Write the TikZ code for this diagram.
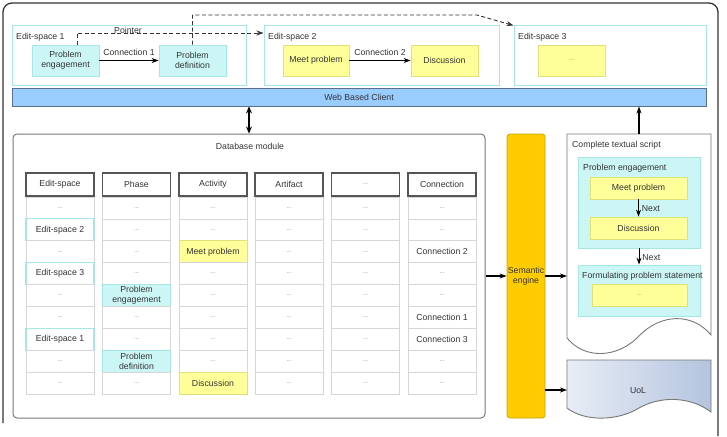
\documentclass[tikz,border=0pt]{standalone}
\usepackage{fontspec}
\setmainfont{Liberation Sans}
\usetikzlibrary{arrows.meta,calc}
\definecolor{txt}{HTML}{333333}
\definecolor{cyb}{HTML}{A6E6E6}
\definecolor{cyf}{HTML}{CCF6F6}
\definecolor{yef}{HTML}{FFFF99}
\definecolor{yeb}{HTML}{E0E07A}
\definecolor{blf}{HTML}{99CCFF}
\definecolor{blb}{HTML}{5C6F88}
\definecolor{orf}{HTML}{FFCC00}
\definecolor{orb}{HTML}{C9A100}
\definecolor{cellb}{HTML}{D6D6D6}
\definecolor{hdrb}{HTML}{555555}
\definecolor{frm}{HTML}{777777}
\definecolor{uolL}{HTML}{E8EDF6}
\definecolor{uolR}{HTML}{B4C4DE}
\newcommand{\dd}{\textcolor{gray}{\fontsize{6}{6}\selectfont ...}}
\expandafter\def\csname ctd\endcsname{\dd}
\expandafter\def\csname ctE1\endcsname{Edit-space 1}
\expandafter\def\csname ctE2\endcsname{Edit-space 2}
\expandafter\def\csname ctE3\endcsname{Edit-space 3}
\expandafter\def\csname ctPE\endcsname{Problem\\engagement}
\expandafter\def\csname ctPD\endcsname{Problem\\definition}
\expandafter\def\csname ctMP\endcsname{Meet problem}
\expandafter\def\csname ctDI\endcsname{Discussion}
\expandafter\def\csname ctC1\endcsname{Connection 1}
\expandafter\def\csname ctC2\endcsname{Connection 2}
\expandafter\def\csname ctC3\endcsname{Connection 3}
\begin{document}
\begin{tikzpicture}[x=1pt,y=-1pt, font=\fontsize{8.7}{9.7}\selectfont, text=txt,
  every node/.style={inner sep=0pt, align=center},
  espace/.style={draw=cyb, line width=1pt, fill=white},
  cybox/.style={draw=cyb, fill=cyf, line width=0.8pt},
  yebox/.style={draw=yeb, fill=yef, line width=0.8pt},
  arr/.style={-{Stealth[length=7pt,width=5pt]}, line width=1.1pt, draw=black},
  dasharr/.style={dash pattern=on 4pt off 2.5pt, line width=0.9pt, draw=txt, -{Stealth[length=7pt,width=5pt]}},
  cell/.style={draw=cellb, line width=0.8pt, fill=white, minimum width=68pt, minimum height=21.9pt},
  hdr/.style={draw=hdrb, line width=1.1pt, fill=white, minimum width=68pt, minimum height=23pt},
  k-d/.style={cell}, k-C1/.style={cell}, k-C2/.style={cell}, k-C3/.style={cell},
  k-E1/.style={cell, draw=cyb, line width=1.1pt}, k-E2/.style={k-E1}, k-E3/.style={k-E1},
  k-PE/.style={cell, draw=cyb, fill=cyf}, k-PD/.style={k-PE},
  k-MP/.style={cell, draw=yeb, fill=yef}, k-DI/.style={k-MP}
]
\useasboundingbox (0,0) rectangle (727,436);
% outer frame
\draw[line width=1.3pt, draw=txt, rounded corners=9pt] (3,423) -- (3,3) -- (718,3) -- (718,436);

% edit spaces
\node[espace, minimum width=234pt, minimum height=59pt] (es1) at (129,55.5) {};
\node[espace, minimum width=235pt, minimum height=59pt] (es2) at (381.5,55.5) {};
\node[espace, minimum width=192pt, minimum height=59pt] (es3) at (610,55.5) {};
\node[anchor=west] (l1) at (16,37) {Edit-space 1};
\node[anchor=west] (l2) at (268,37) {Edit-space 2};
\node[anchor=west] (l3) at (518,37) {Edit-space 3};
\node[cybox, minimum width=67pt, minimum height=31pt] (pe) at (65.5,60.5) {Problem\\engagement};
\node[cybox, minimum width=67pt, minimum height=31pt] (pd) at (192.5,60.5) {Problem\\definition};
\node[yebox, minimum width=66pt, minimum height=31pt] (mp) at (316,60.5) {Meet problem};
\node[yebox, minimum width=67pt, minimum height=31pt] (di) at (444.5,60.5) {Discussion};
\node[yebox, minimum width=67pt, minimum height=31pt] (e3d) at (571.5,60.5) {\dd};
\draw[arr] (pe) -- node[above=4pt] {Connection 1} (pd);
\draw[arr] (mp) -- node[above=4pt] {Connection 2} (di);
\coordinate (p1) at (77,33);
\draw[dasharr] (pe.north -| p1) |- (p1 -| es2.west);
\node (ptr) at (128,30) {Pointer};
\coordinate (k1) at (477,15);
\draw[dasharr] (pd.north) -- (pd.north |- k1) -- (k1) -- (es3.north west);

% web based client
\node[draw=blb, fill=blf, line width=0.9pt, minimum width=694pt, minimum height=18pt] (wbc) at (359,97) {Web Based Client};

% database module
\node[draw=frm, line width=1pt, rounded corners=4pt, minimum width=472pt, minimum height=284pt] (db) at (249,276) {};
\node (dbl) at (250,146) {Database module};
\draw[{Stealth[length=7pt,width=6pt]}-{Stealth[length=7pt,width=6pt]}, line width=1.5pt] (db.north) -- (db.north |- wbc.south);

% table
\foreach \xc/\hd [count=\col] in {60/Edit-space, 136.5/Phase, 213/Activity, 289/Artifact, 365.5/{\dd}, 442/Connection}
  \node[hdr] (h\col) at (\xc,184.5) {\hd};
\foreach \t [count=\r] in {d,E2,d,E3,d,d,E1,d,d}
  \node[k-\t] (c1-\r) at (60,{197+(\r-0.5)*21.9}) {\csname ct\t\endcsname};
\foreach \t [count=\r] in {d,d,d,d,PE,d,d,PD,d}
  \node[k-\t] (c2-\r) at (136.5,{197+(\r-0.5)*21.9}) {\csname ct\t\endcsname};
\foreach \t [count=\r] in {d,d,MP,d,d,d,d,d,DI}
  \node[k-\t] (c3-\r) at (213,{197+(\r-0.5)*21.9}) {\csname ct\t\endcsname};
\foreach \t [count=\r] in {d,d,d,d,d,d,d,d,d}
  \node[k-\t] (c4-\r) at (289,{197+(\r-0.5)*21.9}) {\csname ct\t\endcsname};
\foreach \t [count=\r] in {d,d,d,d,d,d,d,d,d}
  \node[k-\t] (c5-\r) at (365.5,{197+(\r-0.5)*21.9}) {\csname ct\t\endcsname};
\foreach \t [count=\r] in {d,d,C2,d,d,C1,C3,d,d}
  \node[k-\t] (c6-\r) at (442,{197+(\r-0.5)*21.9}) {\csname ct\t\endcsname};

% semantic engine
\node[draw=orb, fill=orf, rounded corners=3pt, line width=0.8pt, minimum width=38pt, minimum height=284pt] (se) at (526,276) {Semantic\\engine};
\draw[arr] (db.east) -- (se.west);

% complete textual script
\draw[draw=frm, line width=0.9pt, fill=white] (567,134) -- (711,134) -- (711,335)
  .. controls (692,312) and (660,314) .. (639,336)
  .. controls (618,358) and (585,360) .. (567,338) -- cycle;
\coordinate (ctsN) at (639,134);
\coordinate (ctsW) at (567,276);
\node[anchor=west] (ctl) at (572,145) {Complete textual script};
\node[cybox, minimum width=122pt, minimum height=91pt] (pe2) at (639,202.5) {};
\node[anchor=west] (pe2l) at (583,168) {Problem engagement};
\node[yebox, minimum width=97pt, minimum height=22pt] (mp2) at (638.5,188) {Meet problem};
\node[yebox, minimum width=97pt, minimum height=22pt] (di2) at (638.5,228) {Discussion};
\draw[arr, line width=0.9pt] (mp2.south) -- node[right=3pt, pos=0.55] {Next} (di2.north);
\node[cybox, minimum width=122pt, minimum height=51pt] (fp) at (639,290.5) {};
\node[anchor=west] (fpl) at (582,276) {Formulating problem statement};
\node[yebox, minimum width=95pt, minimum height=22pt] (fpd) at (639.5,295) {\dd};
\draw[arr, line width=0.9pt] (pe2.south) -- node[right=3pt, pos=0.55] {Next} (fp.north);
\draw[arr] (se.east |- ctsW) -- (ctsW);
\draw[arr] (ctsN) -- (ctsN |- wbc.south);

% UoL
\draw[draw=frm, line width=0.9pt, left color=uolL, right color=uolR] (567,360) -- (711,360) -- (711,412)
  .. controls (690,396) and (660,396) .. (639,408)
  .. controls (618,421) and (585,422) .. (567,408) -- cycle;
\coordinate (uolW) at (567,390);
\node (uol) at (638,391) {UoL};
\draw[arr] (se.east |- uolW) -- (uolW);
\end{tikzpicture}
\end{document}
